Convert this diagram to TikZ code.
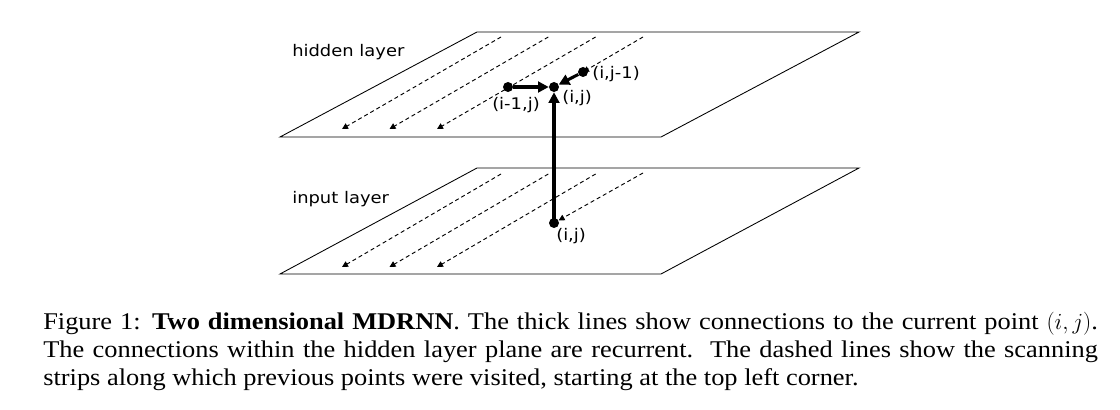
\documentclass[tikz,border=0pt]{standalone}
\usepackage{fontspec}
\setmainfont[FakeStretch=1.10]{Liberation Serif}
\newfontfamily\labelfont[FakeStretch=1.12]{DejaVu Sans}
\usetikzlibrary{arrows.meta}

\begin{document}
\begin{tikzpicture}[x=0.75pt,y=0.75pt,yscale=-1,xscale=1,
  plane/.style={line width=0.65pt},
  scan/.style={line width=0.7pt,dash pattern=on 3pt off 2.25pt,-{Triangle[length=4.5pt,width=4.5pt]}},
  conn/.style={line width=2.3pt,-{Triangle[length=8pt,width=8pt]}},
  dot/.style={circle,fill=black,inner sep=0pt,minimum size=7.5pt},
  lbl/.style={font=\labelfont\fontsize{12}{14}\selectfont,inner sep=0.75pt}]
%uncomment if require: \path (0,410); %set diagram left start at 0, and has height of 410
\path (0,0) rectangle (1120,410);

%Shape: Parallelogram [hidden layer]
\draw [plane] (280,137) -- (661,137) -- (859,32) -- (477,32) -- cycle ;
%Shape: Parallelogram [input layer]
\draw [plane] (280,274) -- (661,274) -- (859,168) -- (477,168) -- cycle ;

%Shape: Circle [points]
\node [dot] (him) at (508,87) {};
\node [dot] (hij) at (554,87) {};
\node [dot] (hjm) at (583,72) {};
\node [dot] (iij) at (554,223) {};

%Dashed Lines [scanning strips]
\foreach \k in {0,1,2} {
  \draw [scan] ({501+47.3*\k},37) -- ({342+47.5*\k},129) ;
  \draw [scan] ({501+47.3*\k},174) -- ({342+47.5*\k},267) ;
}
\draw [scan] (643,37) -- (hjm.center) ;
\draw [scan] (643,173) -- (iij) ;

%Straight Lines [connections]
\draw [conn] (iij.center) -- (hij) ;
\draw [conn] (him) -- (hij) ;
\draw [conn] (hjm) -- (hij) ;

% Text Node
\node [lbl,anchor=west] (hlab) at (291,52) {hidden layer};
% Text Node
\node [lbl,anchor=west] (ilab) at (291,199) {input layer};
% Text Node
\node [lbl,anchor=west] (hjmlab) at (591,74) {(i,j-1)};
% Text Node
\node [lbl,anchor=north west] (hijlab) at (561,89) {(i,j)};
% Text Node
\node [lbl,anchor=north] (himlab) at (516,96) {(i-1,j)};
% Text Node
\node [lbl,anchor=north west] (iijlab) at (555,227) {(i,j)};

% Text Node
\node [anchor=north west,inner sep=0pt,text width=791pt,align=justify,
  font=\fontsize{18}{21}\selectfont] (caption) at (43,312)
  {Figure 1: \textbf{Two dimensional MDRNN}. The thick lines show connections to the current point $(i,j)$.\linebreak
  The connections within the hidden layer plane are recurrent.\ \ The dashed lines show the scanning\linebreak
  strips along which previous points were visited, starting at the top left corner.};
\end{tikzpicture}
\end{document}
